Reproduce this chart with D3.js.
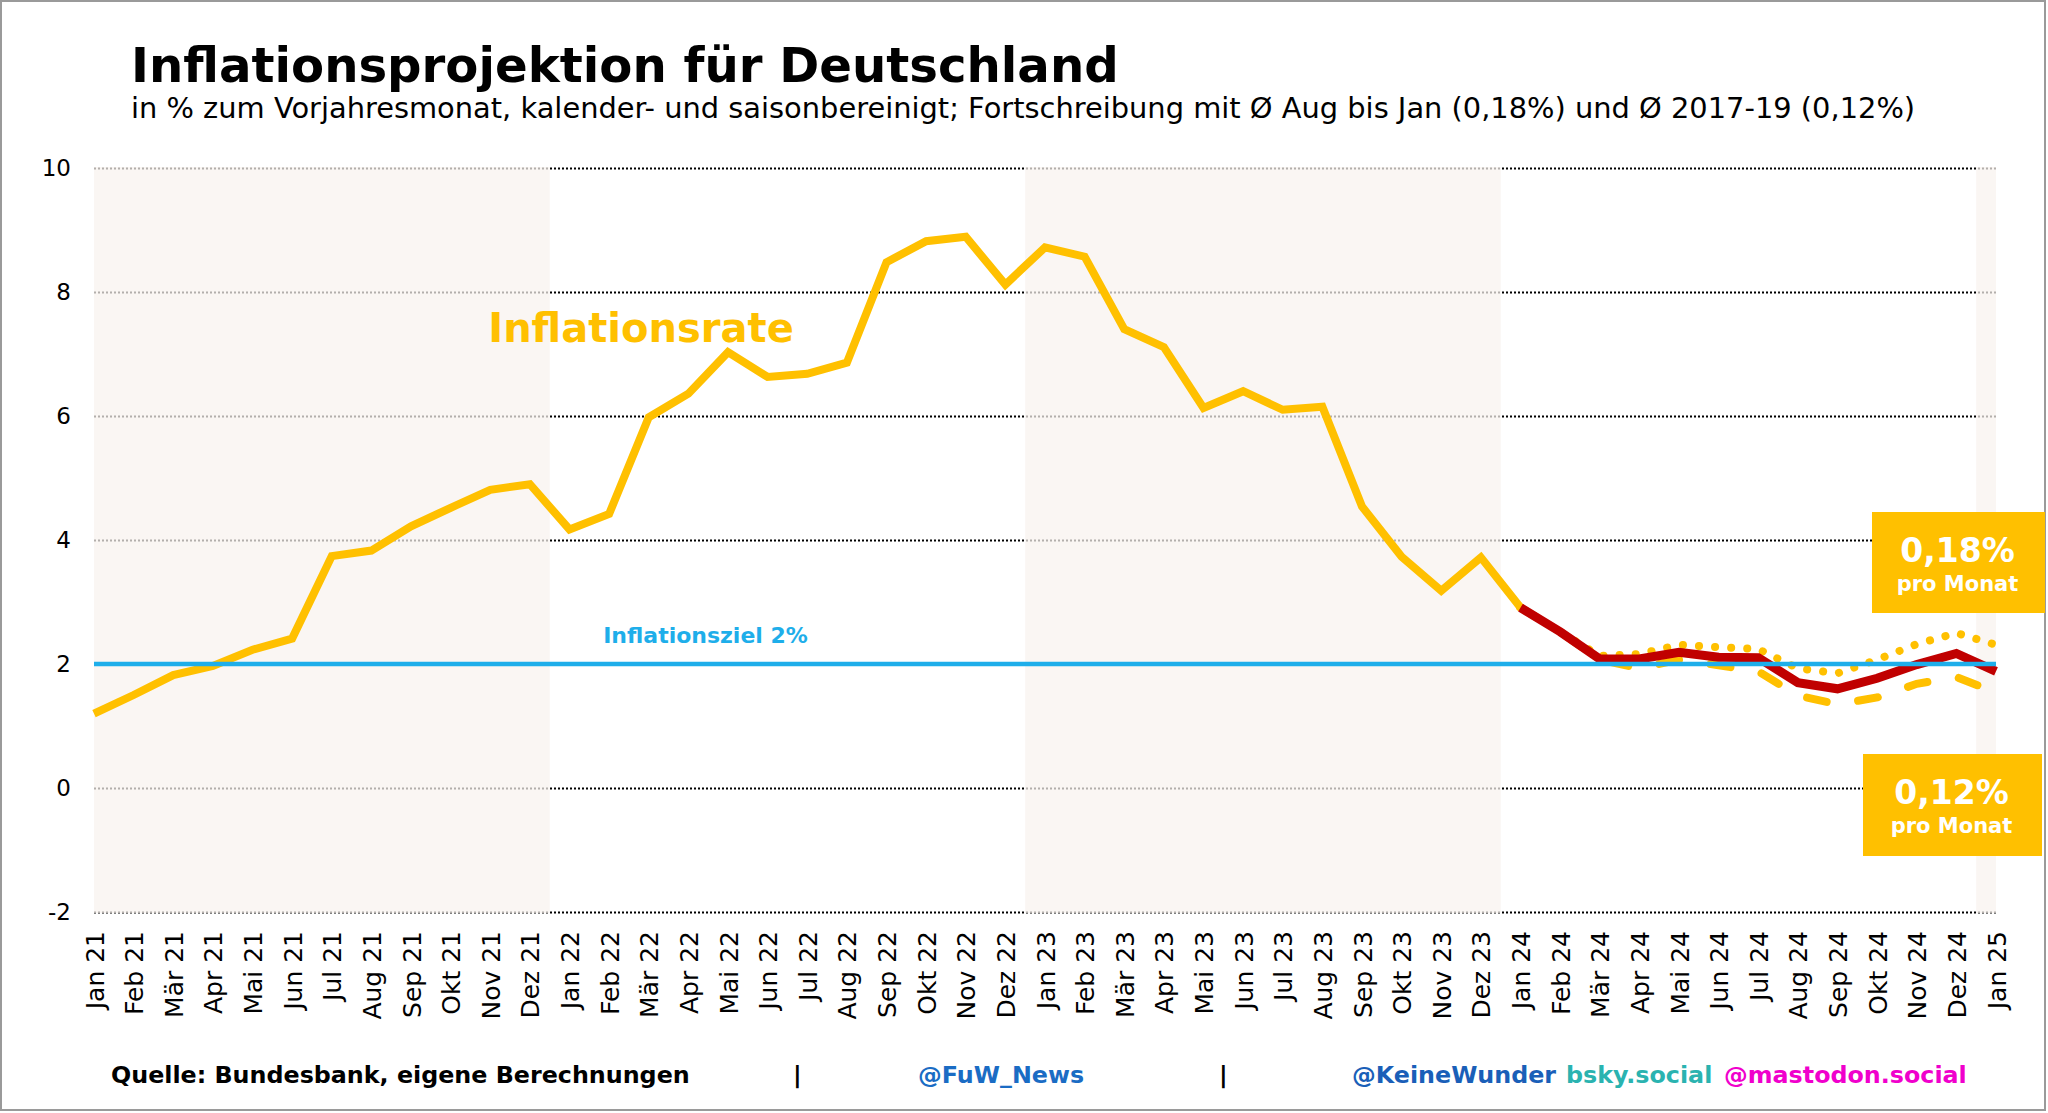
<!DOCTYPE html>
<html>
<head>
<meta charset="utf-8">
<script src="https://cdn.jsdelivr.net/npm/d3@7"></script>
<style>
  body { margin: 0; background: #fff; }
  svg { display: block; }
</style>
</head>
<body>
<div id="chart"></div>
<script>
// ---- data ----
const monthNames = ["Jan", "Feb", "Mär", "Apr", "Mai", "Jun", "Jul", "Aug", "Sep", "Okt", "Nov", "Dez"];
const years = ["21", "22", "23", "24"];
const months = years.flatMap(y => monthNames.map(m => m + " " + y)).concat(["Jan 25"]);

// Inflationsrate Jan 21 .. Jan 24
const inflation = [
  1.20, 1.50, 1.82, 1.97, 2.23, 2.41, 3.74, 3.83, 4.22, 4.52, 4.81, 4.90,
  4.17, 4.42, 5.98, 6.36, 7.03, 6.63, 6.68, 6.86, 8.48, 8.82, 8.89, 8.12,
  8.72, 8.57, 7.40, 7.11, 6.13, 6.40, 6.10, 6.15, 4.54, 3.73, 3.18, 3.72,
  2.91
];
// Jan 24 .. Jan 25
const projectionMonths = months.slice(36);
const projection = [2.91, 2.52, 2.08, 2.08, 2.19, 2.11, 2.10, 1.70, 1.60, 1.77, 1.99, 2.17, 1.88];
const scenario018 = [2.91, 2.52, 2.13, 2.16, 2.31, 2.27, 2.24, 1.93, 1.85, 2.07, 2.32, 2.50, 2.31];
const scenario012 = [2.91, 2.52, 2.07, 1.93, 2.07, 1.98, 1.88, 1.49, 1.35, 1.46, 1.68, 1.79, 1.54];

const yTicks = [-2, 0, 2, 4, 6, 8, 10];
const target = 2;
const shadedYears = ["21", "23", "25"];

// ---- layout ----
const W = 2048, H = 1113;
const plotLeft = 94, plotRight = 1996, plotTop = 168, plotBottom = 912;
const yellow = "#ffc000", red = "#c00000", blue = "#1eaeea";

const svg = d3.select("#chart").append("svg")
  .attr("width", W)
  .attr("height", H)
  .style("font-family", "'DejaVu Sans', Verdana, sans-serif");

svg.append("rect").attr("x", 1).attr("y", 1).attr("width", W - 4).attr("height", H - 4)
  .attr("fill", "#fff").attr("stroke", "#9a9a9a").attr("stroke-width", 2);

const x = d3.scalePoint().domain(months).range([plotLeft, plotRight]);
const y = d3.scaleLinear().domain([-2, 10]).range([plotBottom, plotTop]);
const step = x.step();

function fitWidth(sel, w) {
  const len = sel.node().getComputedTextLength();
  const fs = parseFloat(sel.attr("font-size"));
  sel.attr("font-size", fs * w / len);
  return fs * w / len;
}

// title
const title = svg.append("text").attr("x", 131).attr("y", 82)
  .attr("font-size", 48).attr("font-weight", "bold").attr("fill", "#000")
  .text("Inflationsprojektion für Deutschland");
fitWidth(title, 988);

const sub = svg.append("text").attr("x", 131).attr("y", 118)
  .attr("font-size", 27).attr("fill", "#000")
  .text("in % zum Vorjahresmonat, kalender- und saisonbereinigt; Fortschreibung mit Ø Aug bis Jan (0,18%) und Ø 2017-19 (0,12%)");
fitWidth(sub, 1785);

// gridlines + y labels
const yAxis = svg.append("g")
  .attr("transform", `translate(${plotLeft},0)`)
  .call(d3.axisLeft(y).tickValues(yTicks).tickFormat(d => String(d))
    .tickSize(-(plotRight - plotLeft)).tickPadding(23));
yAxis.select(".domain").remove();
yAxis.selectAll(".tick line")
  .attr("stroke", "#000").attr("stroke-width", 2).attr("stroke-dasharray", "2,2");
yAxis.selectAll(".tick text")
  .attr("font-size", 23).attr("fill", "#000")
  .style("font-family", "'DejaVu Sans', Verdana, sans-serif");

// shaded years
const shade = svg.append("g");
shadedYears.forEach(yr => {
  const ms = months.filter(m => m.endsWith(" " + yr));
  const x0 = Math.max(plotLeft, x(ms[0]) - step / 2);
  const x1 = Math.min(plotRight, x(ms[ms.length - 1]) + step / 2);
  shade.append("rect")
    .attr("x", x0).attr("y", plotTop - 1)
    .attr("width", x1 - x0).attr("height", plotBottom - plotTop + 2)
    .attr("fill", "#f8f3ee").attr("opacity", 0.72);
});

// x labels
const xAxis = svg.append("g")
  .attr("transform", `translate(0,${plotBottom})`)
  .call(d3.axisBottom(x).tickSize(0));
xAxis.select(".domain").remove();
xAxis.selectAll(".tick text")
  .attr("transform", "rotate(-90)")
  .attr("x", -19).attr("y", 0).attr("dy", "0.36em")
  .attr("text-anchor", "end")
  .attr("font-size", 25).attr("fill", "#000")
  .style("font-family", "'DejaVu Sans', Verdana, sans-serif");

// lines
const line = d3.line().x(d => x(d[0])).y(d => y(d[1]));

svg.append("path")
  .datum(d3.zip(projectionMonths, scenario012))
  .attr("d", line).attr("fill", "none")
  .attr("stroke", yellow).attr("stroke-width", 8)
  .attr("stroke-linecap", "round").attr("stroke-dasharray", "20,32");

svg.append("path")
  .datum(d3.zip(projectionMonths, scenario018))
  .attr("d", line).attr("fill", "none")
  .attr("stroke", yellow).attr("stroke-width", 8)
  .attr("stroke-linecap", "round").attr("stroke-dasharray", "0.1,16");

svg.append("path")
  .datum(d3.zip(months.slice(0, inflation.length), inflation))
  .attr("d", line).attr("fill", "none")
  .attr("stroke", yellow).attr("stroke-width", 8)
  .attr("stroke-linejoin", "miter");

svg.append("path")
  .datum(d3.zip(projectionMonths, projection))
  .attr("d", line).attr("fill", "none")
  .attr("stroke", red).attr("stroke-width", 9);

// inflation target
svg.append("line")
  .attr("x1", plotLeft).attr("x2", plotRight)
  .attr("y1", y(target)).attr("y2", y(target))
  .attr("stroke", blue).attr("stroke-width", 4.5);

svg.append("text")
  .attr("x", x("Feb 22") - 6).attr("y", y(target) - 21)
  .attr("font-size", 22).attr("font-weight", "bold").attr("fill", blue)
  .text("Inflationsziel 2%");

svg.append("text")
  .attr("x", x("Nov 21") - 2).attr("y", y(7.2))
  .attr("font-size", 40).attr("font-weight", "bold").attr("fill", yellow)
  .text("Inflationsrate");

// boxes
const boxes = [
  {label: "0,18%", x: 1872, y: 512, w: 173, h: 101},
  {label: "0,12%", x: 1863, y: 754, w: 179, h: 102}
];
boxes.forEach(b => {
  svg.append("rect").attr("x", b.x).attr("y", b.y).attr("width", b.w).attr("height", b.h)
    .attr("fill", yellow);
  svg.append("text").attr("x", b.x + b.w / 2 - 1).attr("y", b.y + 50)
    .attr("text-anchor", "middle").attr("font-size", 33).attr("font-weight", "bold")
    .attr("fill", "#fff").text(b.label);
  svg.append("text").attr("x", b.x + b.w / 2 - 1).attr("y", b.y + 79)
    .attr("text-anchor", "middle").attr("font-size", 21).attr("font-weight", "bold")
    .attr("fill", "#fff").text("pro Monat");
});

// footer
const footY = 1083;
const src = svg.append("text").attr("x", 111).attr("y", footY)
  .attr("font-size", 23).attr("font-weight", "bold").attr("fill", "#000")
  .text("Quelle: Bundesbank, eigene Berechnungen");
const fs = fitWidth(src, 579);

const footer = [
  {t: "|", x: 793, c: "#000"},
  {t: "@FuW_News", x: 918, c: "#1a6cc4"},
  {t: "|", x: 1219, c: "#000"},
  {t: "@KeineWunder", x: 1352, c: "#1a5fb8"},
  {t: "bsky.social", x: 1566, c: "#2ab3b0"},
  {t: "@mastodon.social", x: 1724, c: "#f000cc"}
];
footer.forEach(f => {
  svg.append("text").attr("x", f.x).attr("y", footY)
    .attr("font-size", fs).attr("font-weight", "bold").attr("fill", f.c)
    .text(f.t);
});
</script>
</body>
</html>
